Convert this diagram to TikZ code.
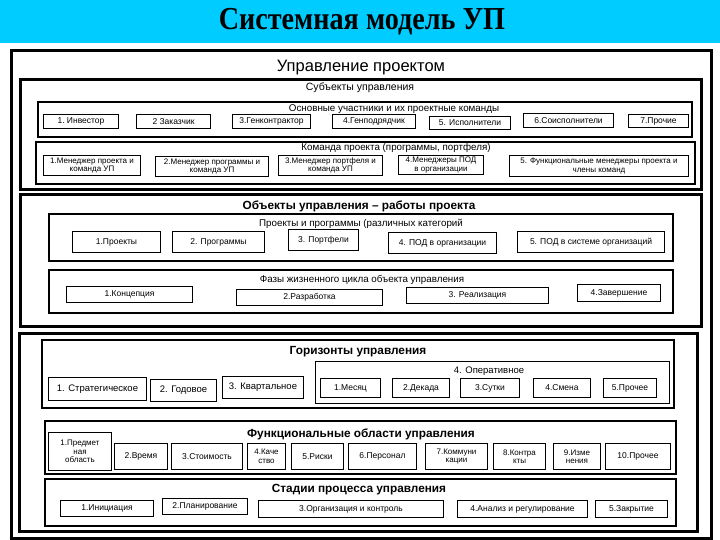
\documentclass[tikz,border=0pt]{standalone}
\usepackage{fontspec}
\setmainfont{Liberation Sans}
\newfontfamily\titlefont{Liberation Serif}
\definecolor{band}{RGB}{0,204,255}
\newcommand\fs[1]{\fontsize{#1}{#1}\selectfont}
% \bx{name}{x1}{y1}{x2}{y2}{style}{text}
\newcommand\bx[7]{\node[#6, anchor=north west, minimum width=#4pt-#2pt, minimum height=#5pt-#3pt] (#1) at (#2,#3) {#7};}
\tikzset{
  bigbox/.style={draw, line width=3pt, inner sep=0pt},
  grpbox/.style={draw, line width=2pt, inner sep=0pt},
  subbox/.style={draw, line width=1pt, inner sep=0pt},
  itembox/.style={draw, line width=1pt, inner sep=0pt, align=center, font=\fs{8.5}},
  horbox/.style={itembox, font=\fs{9.5}},
  itemtwo/.style={draw, line width=1pt, inner sep=0pt, align=center, font=\fontsize{8}{8.5}\selectfont},
  grplbl/.style={inner sep=0pt, font=\fs{9.8}},
  seclbl/.style={inner sep=0pt, font=\bfseries\fs{11.8}},
}
\begin{document}
\begin{tikzpicture}[x=1pt, y=-1pt]
\useasboundingbox (0,0) rectangle (720,540);
\fill[band] (0,0) rectangle (720,43);
\node[font=\titlefont\bfseries\fs{32}, xscale=0.88] (title) at (362,22) {Системная модель УП};

% outer
\bx{outer}{10}{49}{710}{537}{bigbox}{}
\node[inner sep=0pt, font=\fs{16.5}] (lmain) at (361,68) {Управление проектом};

% Subjects
\bx{subj}{19}{78}{700}{188}{bigbox}{}
\node[grplbl, font=\fs{10.5}] (lsubj) at (360,88) {Субъекты управления};
\bx{part}{37}{101}{691}{136}{grpbox}{}
\node[grplbl] (lpart) at (394,109) {Основные участники и их проектные команды};
\bx{p1}{43}{114}{118}{128}{itembox}{1.~Инвестор}
\bx{p2}{136}{114}{210}{128}{itembox}{2 Заказчик}
\bx{p3}{232}{114}{310}{128}{itembox}{3.Генконтрактор}
\bx{p4}{332}{114}{415}{128}{itembox}{4.Генподрядчик}
\bx{p5}{429}{116}{510}{129}{itembox}{5. Исполнители}
\bx{p6}{523}{113}{613}{127}{itembox}{6.Соисполнители}
\bx{p7}{628}{114}{688}{127}{itembox}{7.Прочие}

\bx{team}{35}{141}{694}{183}{grpbox}{}
\node[grplbl] (lteam) at (396,148) {Команда проекта (программы, портфеля)};
\bx{t1}{43}{155}{140}{175}{itemtwo}{1.Менеджер проекта и\\команда УП}
\bx{t2}{155}{156}{268}{176}{itemtwo}{2.Менеджер программы и\\команда УП}
\bx{t3}{278}{155}{382}{175}{itemtwo}{3.Менеджер портфеля и\\команда УП}
\bx{t4}{398}{155}{483}{174}{itemtwo}{4.Менеджеры ПОД\\в организации}
\bx{t5}{509}{155}{688}{176}{itemtwo}{5. Функциональные менеджеры проекта и\\члены команд}

% Objects
\bx{obj}{19}{193}{700}{325}{bigbox}{}
\node[seclbl] (lobj) at (359,206) {Объекты управления – работы проекта};
\bx{proj}{48}{213}{672}{260}{grpbox}{}
\node[grplbl] (lproj) at (361,224) {Проекты и программы (различных категорий};
\bx{o1}{72}{231}{160}{252}{itembox}{1.Проекты}
\bx{o2}{172}{231}{264}{252}{itembox}{2. Программы}
\bx{o3}{288}{229}{358}{250}{itembox}{3. Портфели}
\bx{o4}{388}{232}{496}{253}{itembox}{4. ПОД в организации}
\bx{o5}{517}{231}{664}{252}{itembox}{5. ПОД в системе организаций}

\bx{phase}{48}{269}{672}{312}{grpbox}{}
\node[grplbl] (lphase) at (362,280) {Фазы жизненного цикла объекта управления};
\bx{f1}{66}{286}{192}{302}{itembox}{1.Концепция}
\bx{f2}{236}{289}{382}{305}{itembox}{2.Разработка}
\bx{f3}{406}{287}{548}{303}{itembox}{3. Реализация}
\bx{f4}{577}{284}{660}{301}{itembox}{4.Завершение}

% Box C
\bx{boxc}{18}{332}{696}{530}{bigbox}{}
\bx{hor}{41}{339}{673}{407}{grpbox}{}
\node[seclbl] (lhor) at (358,352) {Горизонты управления};
\bx{h1}{48}{377}{146}{400}{horbox}{1. Стратегическое}
\bx{h2}{150}{379}{216}{401}{horbox}{2. Годовое}
\bx{h3}{222}{376}{303}{398}{horbox}{3. Квартальное}
\bx{oper}{315}{361}{669}{403}{subbox}{}
\node[grplbl, font=\fs{9.5}] (loper) at (489,371) {4. Оперативное};
\bx{m1}{320}{378}{380}{397}{itembox}{1.Месяц}
\bx{m2}{392}{378}{449}{397}{itembox}{2.Декада}
\bx{m3}{460}{378}{519}{397}{itembox}{3.Сутки}
\bx{m4}{533}{378}{590}{397}{itembox}{4.Смена}
\bx{m5}{603}{378}{656}{397}{itembox}{5.Прочее}

\bx{func}{44}{420}{675}{473}{grpbox}{}
\node[seclbl] (lfunc) at (361,434) {Функциональные области управления};
\bx{a1}{48}{432}{111}{470}{itemtwo}{1.Предмет\\ная\\область}
\bx{a2}{114}{443}{167}{469}{itembox}{2.Время}
\bx{a3}{171}{443}{242}{469}{itembox}{3.Стоимость}
\bx{a4}{247}{443}{285}{469}{itemtwo}{4.Каче\\ство}
\bx{a5}{291}{443}{343}{469}{itembox}{5.Риски}
\bx{a6}{348}{443}{416}{469}{itembox}{6.Персонал}
\bx{a7}{425}{443}{487}{469}{itemtwo}{7.Коммуни\\кации}
\bx{a8}{493}{443}{545}{469}{itemtwo}{8.Контра\\кты}
\bx{a9}{553}{443}{600}{469}{itemtwo}{9.Изме\\нения}
\bx{a10}{605}{443}{670}{469}{itembox}{10.Прочее}

\bx{stage}{44}{478}{675}{525}{grpbox}{}
\node[seclbl] (lstage) at (359,490) {Стадии процесса управления};
\bx{s1}{60}{500}{153}{516}{itembox}{1.Инициация}
\bx{s2}{162}{498}{247}{514}{itembox}{2.Планирование}
\bx{s3}{258}{500}{443}{517}{itembox}{3.Организация и контроль}
\bx{s4}{457}{500}{587}{517}{itembox}{4.Анализ и регулирование}
\bx{s5}{595}{500}{667}{517}{itembox}{5.Закрытие}
\end{tikzpicture}
\end{document}
